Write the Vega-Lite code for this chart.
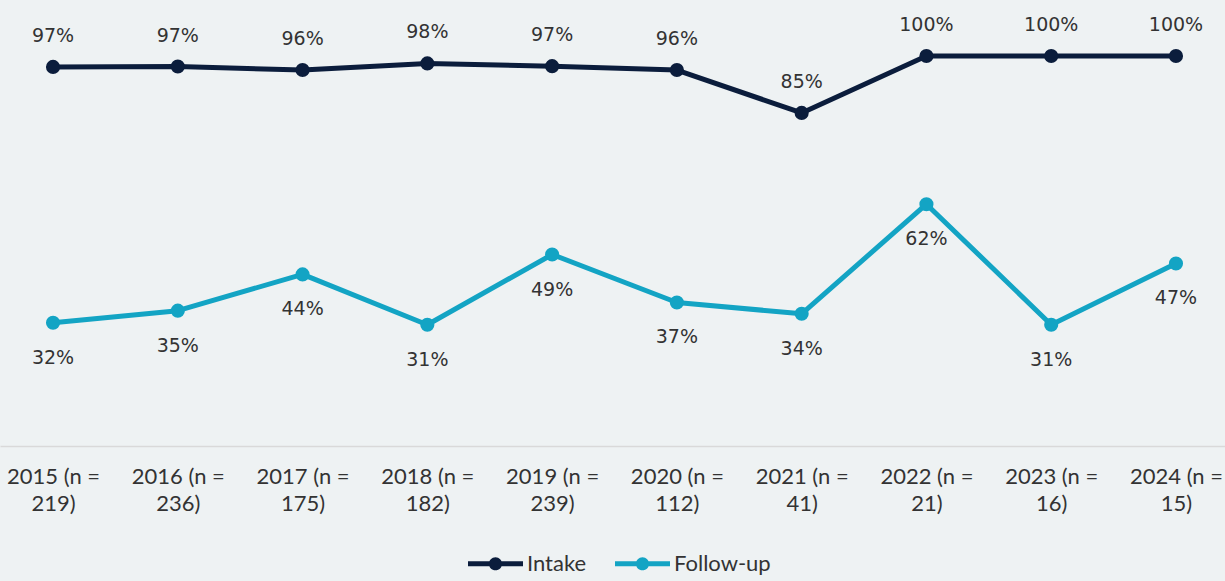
{
  "$schema": "https://vega.github.io/schema/vega-lite/v6.json",
  "autosize": "none",
  "width": 1229,
  "height": 390,
  "padding": {"left": 0, "right": 0, "top": 56, "bottom": 135},
  "background": "#eef2f3",
  "config": {"view": {"stroke": null}},
  "data": {"values": [
    {"year": "2015 (n = 219)", "series": "Intake", "value": 0.972},
    {"year": "2016 (n = 236)", "series": "Intake", "value": 0.973},
    {"year": "2017 (n = 175)", "series": "Intake", "value": 0.964},
    {"year": "2018 (n = 182)", "series": "Intake", "value": 0.981},
    {"year": "2019 (n = 239)", "series": "Intake", "value": 0.974},
    {"year": "2020 (n = 112)", "series": "Intake", "value": 0.964},
    {"year": "2021 (n = 41)", "series": "Intake", "value": 0.854},
    {"year": "2022 (n = 21)", "series": "Intake", "value": 1.0},
    {"year": "2023 (n = 16)", "series": "Intake", "value": 1.0},
    {"year": "2024 (n = 15)", "series": "Intake", "value": 1.0},
    {"year": "2015 (n = 219)", "series": "Follow-up", "value": 0.316},
    {"year": "2016 (n = 236)", "series": "Follow-up", "value": 0.347},
    {"year": "2017 (n = 175)", "series": "Follow-up", "value": 0.44},
    {"year": "2018 (n = 182)", "series": "Follow-up", "value": 0.311},
    {"year": "2019 (n = 239)", "series": "Follow-up", "value": 0.491},
    {"year": "2020 (n = 112)", "series": "Follow-up", "value": 0.368},
    {"year": "2021 (n = 41)", "series": "Follow-up", "value": 0.339},
    {"year": "2022 (n = 21)", "series": "Follow-up", "value": 0.62},
    {"year": "2023 (n = 16)", "series": "Follow-up", "value": 0.311},
    {"year": "2024 (n = 15)", "series": "Follow-up", "value": 0.468}
  ]},
  "encoding": {
    "x": {
      "field": "year", "type": "ordinal", "sort": null,
      "scale": {"type": "point", "padding": 0.425},
      "axis": {
        "title": null, "ticks": false, "labelAngle": 0,
        "domainColor": "#d9d9d9", "domainWidth": 1.5,
        "labelFont": "Lato", "labelFontSize": 22, "labelColor": "#333333",
        "labelPadding": 20, "labelLineHeight": 27,
        "labelOverlap": false, "labelBound": false, "labelLimit": 0,
        "labelExpr": "[substring(datum.label, 0, indexof(datum.label, '=') + 1), substring(datum.label, indexof(datum.label, '=') + 2)]"
      }
    },
    "y": {
      "field": "value", "type": "quantitative",
      "scale": {"domain": [0, 1], "nice": false, "zero": true},
      "axis": null
    },
    "color": {"field": "series", "type": "nominal",
      "scale": {"domain": ["Intake", "Follow-up"], "range": ["#0b1d3c", "#13a4c4"]},
      "legend": {
        "title": null, "orient": "none", "direction": "horizontal",
        "legendX": 468, "legendY": 480,
        "symbolType": "M-1,-0.09 L1,-0.09 L1,0.09 L-1,0.09 Z M0.24,0 A0.24,0.24 0 1,1 -0.24,0 A0.24,0.24 0 1,1 0.24,0 Z",
        "symbolSize": 3025, "symbolStrokeWidth": 0, "symbolOpacity": 1,
        "labelFont": "Lato", "labelFontSize": 22, "labelColor": "#333333",
        "labelOffset": 4, "columnPadding": 28
      }
    }
  },
  "layer": [
    {
      "mark": {"type": "line", "strokeWidth": 5, "strokeCap": "round", "strokeJoin": "round"},
      "encoding": {"detail": {"field": "series"}}
    },
    {
      "mark": {"type": "point", "filled": true, "opacity": 1, "size": 200}
    },
    {
      "transform": [{"filter": "datum.series === 'Intake'"}],
      "mark": {"type": "text", "dy": -31, "baseline": "middle", "font": "DejaVu Sans", "fontSize": 19, "color": "#333333"},
      "encoding": {"text": {"field": "value", "type": "quantitative", "format": ".0%"}, "color": {"value": "#333333"}}
    },
    {
      "transform": [{"filter": "datum.series === 'Follow-up'"}],
      "mark": {"type": "text", "dy": 35, "baseline": "middle", "font": "DejaVu Sans", "fontSize": 19, "color": "#333333"},
      "encoding": {"text": {"field": "value", "type": "quantitative", "format": ".0%"}, "color": {"value": "#333333"}}
    }
  ]
}
